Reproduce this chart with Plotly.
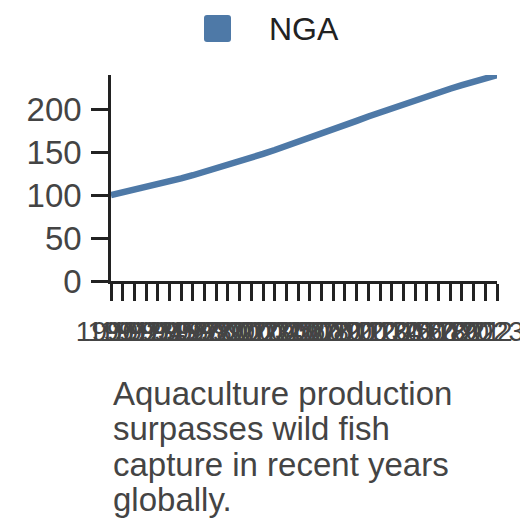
import plotly.graph_objects as go

# data
years = list(range(1990, 2024))
nga_values = [
    100.0, 103.0, 106.1, 109.3, 112.6, 116.0, 119.5, 123.2, 127.1, 131.1,
    135.2, 139.4, 143.7, 148.1, 152.6, 157.2, 161.9, 166.7, 171.6, 176.6,
    181.6, 186.6, 191.6, 196.5, 201.4, 206.2, 210.9, 215.4, 219.8, 224.0,
    228.1, 232.1, 236.0, 239.8,
]
series_name = "NGA"
y_ticks = [0, 50, 100, 150, 200]
caption_lines = [
    "Aquaculture production",
    "surpasses wild fish",
    "capture in recent years",
    "globally.",
]

FONT = "Arial, 'Liberation Sans', sans-serif"
LINE_COLOR = "#4e79a7"
AXIS_COLOR = "#222222"
TEXT_COLOR = "#444444"

# the page body has an 8px margin, so the figure is drawn a bit smaller
OFFSET = 8
W, H = 520, 520
# plot area in page pixels
PLOT_L, PLOT_R, PLOT_T, PLOT_B = 111, 497, 75, 281
PW, PH = PLOT_R - PLOT_L, PLOT_B - PLOT_T
L, T = PLOT_L - OFFSET, PLOT_T - OFFSET
R, B = W - (PLOT_R - OFFSET), H - (PLOT_B - OFFSET)


def px_x(x):
    return (x - PLOT_L) / PW


def px_y(y):
    return (PLOT_B - y) / PH


fig = go.Figure()
fig.add_trace(go.Scatter(
    x=years,
    y=nga_values,
    mode="lines",
    name=series_name,
    line=dict(color=LINE_COLOR, width=6.5),
    showlegend=False,
    hoverinfo="x+y",
))

# legend drawn by hand: rounded square + label
x0, x1 = px_x(204), px_x(231)
y0, y1 = px_y(42), px_y(15)
rx, ry = 3 / PW, 3 / PH
path = (
    f"M{x0 + rx},{y0} L{x1 - rx},{y0} Q{x1},{y0} {x1},{y0 + ry} "
    f"L{x1},{y1 - ry} Q{x1},{y1} {x1 - rx},{y1} "
    f"L{x0 + rx},{y1} Q{x0},{y1} {x0},{y1 - ry} "
    f"L{x0},{y0 + ry} Q{x0},{y0} {x0 + rx},{y0} Z"
)
fig.add_shape(type="path", path=path, xref="paper", yref="paper",
              fillcolor=LINE_COLOR, line=dict(width=0))
fig.add_annotation(text=series_name, xref="paper", yref="paper",
                   x=px_x(267), y=px_y(29), xanchor="left", yanchor="middle",
                   showarrow=False, font=dict(family=FONT, size=32, color="#222222"))

# caption, one annotation per line to keep the tight spacing
for i, line in enumerate(caption_lines):
    fig.add_annotation(text=line, xref="paper", yref="paper",
                       x=px_x(111), y=px_y(393 + i * 35.5),
                       xanchor="left", yanchor="middle", showarrow=False,
                       font=dict(family=FONT, size=33, color=TEXT_COLOR))

fig.update_layout(
    width=W,
    height=H,
    margin=dict(l=L, r=R, t=T, b=B, pad=0, autoexpand=False),
    plot_bgcolor="white",
    paper_bgcolor="white",
    font=dict(family=FONT, size=32, color=TEXT_COLOR),
    xaxis=dict(
        range=[years[0], years[-1]],
        tickmode="array",
        tickvals=years,
        ticktext=[str(y) for y in years],
        tickangle=0,
        ticks="outside",
        ticklen=17,
        tickwidth=2.5,
        tickcolor=AXIS_COLOR,
        showline=True,
        linewidth=2.5,
        linecolor=AXIS_COLOR,
        showgrid=False,
        zeroline=False,
        automargin=False,
        ticklabelstandoff=7,
        ticklabelshift=-4,
        tickfont=dict(size=28, color=TEXT_COLOR),
    ),
    yaxis=dict(
        range=[0, 240],
        tickmode="array",
        tickvals=y_ticks,
        ticks="outside",
        ticklen=17,
        tickwidth=2.5,
        tickcolor=AXIS_COLOR,
        showline=True,
        linewidth=2.5,
        linecolor=AXIS_COLOR,
        showgrid=False,
        zeroline=False,
        automargin=False,
        ticklabelstandoff=3,
        tickfont=dict(size=33, color=TEXT_COLOR),
    ),
    showlegend=False,
)

fig.write_html("out.html")
